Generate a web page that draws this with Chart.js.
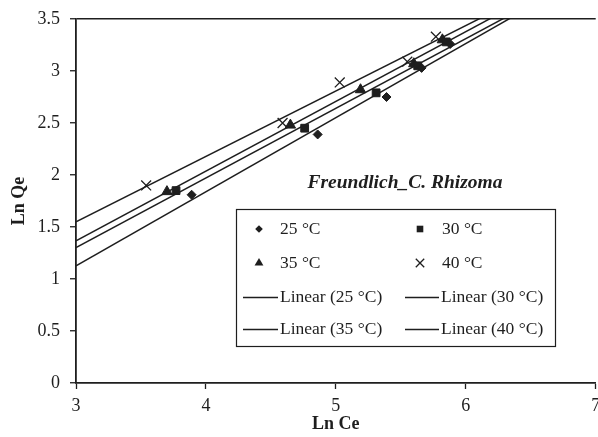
<!DOCTYPE html>
<html>
<head>
<meta charset="utf-8">
<script src="https://cdn.jsdelivr.net/npm/chart.js@4/dist/chart.umd.min.js"></script>
<style>
  html, body { margin: 0; padding: 0; background: #fff; overflow: hidden; }
  #wrap { width: 598px; height: 437px; overflow: hidden; }
  #c { display: block; }
</style>
</head>
<body>
<div id="wrap"><canvas id="c" width="604" height="437"></canvas></div>
<script>
// ---- data ----
const seriesNames = ['25 °C', '30 °C', '35 °C', '40 °C'];
const lnCe25 = [3.89, 4.86, 5.39, 5.66, 5.88];
const lnQe25 = [1.81, 2.39, 2.75, 3.03, 3.26];
const lnCe30 = [3.77, 4.76, 5.31, 5.63, 5.85];
const lnQe30 = [1.85, 2.45, 2.79, 3.05, 3.28];
const lnCe35 = [3.70, 4.65, 5.19, 5.60, 5.82];
const lnQe35 = [1.84, 2.48, 2.82, 3.07, 3.30];
const lnCe40 = [3.54, 4.59, 5.03, 5.55, 5.77];
const lnQe40 = [1.90, 2.50, 2.89, 3.09, 3.33];
const xTicks = [3, 4, 5, 6, 7];
const yTicks = [0, 0.5, 1, 1.5, 2, 2.5, 3, 3.5];
const yTickLabels = ['0', '0.5', '1', '1.5', '2', '2.5', '3', '3.5'];
const chartTitle = 'Freundlich_C. Rhizoma';
const xTitle = 'Ln Ce';
const yTitle = 'Ln Qe';

const xs = [lnCe25, lnCe30, lnCe35, lnCe40];
const ys = [lnQe25, lnQe30, lnQe35, lnQe40];
const styles = ['rectRot', 'rect', 'triangle', 'crossRot'];
const radii = [4.5, 5.5, 6, 7];
const INK = '#1e1e1e';
const SERIF = '"Liberation Serif", "Times New Roman", serif';

function pts(x, y) { return x.map((v, i) => ({x: v, y: y[i]})); }
function fit(x, y) {
  const n = x.length;
  const mx = x.reduce((a, b) => a + b, 0) / n;
  const my = y.reduce((a, b) => a + b, 0) / n;
  let sxy = 0, sxx = 0;
  for (let i = 0; i < n; i++) { sxy += (x[i] - mx) * (y[i] - my); sxx += (x[i] - mx) ** 2; }
  const m = sxy / sxx;
  return {m, b: my - m * mx};
}

const datasets = [];
for (let k = 0; k < 4; k++) {
  datasets.push({
    type: 'scatter', label: seriesNames[k], data: pts(xs[k], ys[k]),
    pointStyle: styles[k], pointRadius: radii[k], pointHoverRadius: radii[k],
    backgroundColor: INK, borderColor: INK, pointBorderWidth: k === 3 ? 1.3 : 1,
    showLine: false, order: 1
  });
}
for (let k = 0; k < 4; k++) {
  const f = fit(xs[k], ys[k]);
  const x0 = xTicks[0], x1 = xTicks[xTicks.length - 1];
  datasets.push({
    type: 'line', label: 'Linear (' + seriesNames[k] + ')',
    data: [{x: x0, y: f.m * x0 + f.b}, {x: x1, y: f.m * x1 + f.b}],
    borderColor: INK, borderWidth: 1.5, pointRadius: 0, fill: false, order: 2
  });
}

function drawMarker(ctx, style, x, y, r) {
  ctx.save();
  ctx.fillStyle = INK; ctx.strokeStyle = INK; ctx.lineWidth = 1.3;
  ctx.beginPath();
  if (style === 'rectRot') {
    ctx.moveTo(x, y - r); ctx.lineTo(x + r, y); ctx.lineTo(x, y + r); ctx.lineTo(x - r, y); ctx.closePath(); ctx.fill();
  } else if (style === 'rect') {
    const s = r * Math.SQRT1_2; ctx.rect(x - s, y - s, 2 * s, 2 * s); ctx.fill();
  } else if (style === 'triangle') {
    const w = r * 0.866;
    ctx.moveTo(x, y - r); ctx.lineTo(x + w, y + r / 2); ctx.lineTo(x - w, y + r / 2); ctx.closePath(); ctx.fill();
  } else {
    const s = r * Math.SQRT1_2;
    ctx.moveTo(x - s, y - s); ctx.lineTo(x + s, y + s); ctx.moveTo(x + s, y - s); ctx.lineTo(x - s, y + s); ctx.stroke();
  }
  ctx.restore();
}

const legendPlugin = {
  id: 'boxLegend',
  afterDraw(chart) {
    const ctx = chart.ctx;
    ctx.save();
    // title
    ctx.fillStyle = INK;
    ctx.font = 'italic bold 19.5px ' + SERIF;
    ctx.textAlign = 'center'; ctx.textBaseline = 'middle';
    ctx.fillText(chartTitle, 405, 183);
    // legend box
    ctx.fillStyle = '#fff';
    ctx.fillRect(236.5, 209.5, 319, 137);
    ctx.strokeStyle = INK; ctx.lineWidth = 1.2;
    ctx.strokeRect(236.5, 209.5, 319, 137);
    ctx.font = '17.5px ' + SERIF;
    ctx.textAlign = 'left';
    ctx.fillStyle = INK;
    const rowsY = [229, 263, 297, 329];
    const colMarkerX = [259, 420];
    const colTextX = [280, 442];
    const colLine = [[243, 278], [405, 439]];
    chart.data.datasets.forEach((ds, i) => {
      const row = Math.floor(i / 2), col = i % 2;
      const y = rowsY[row];
      if (ds.type === 'scatter') {
        drawMarker(ctx, ds.pointStyle, colMarkerX[col], y, ds.pointRadius * 0.85);
        ctx.fillStyle = INK;
        ctx.fillText(ds.label, colTextX[col], y);
      } else {
        ctx.strokeStyle = INK; ctx.lineWidth = 1.3;
        ctx.beginPath(); ctx.moveTo(colLine[col][0], y + 0.5); ctx.lineTo(colLine[col][1], y + 0.5); ctx.stroke();
        ctx.fillStyle = INK;
        ctx.fillText(ds.label, colLine[col][1] + 2, y);
      }
    });
    ctx.restore();
  }
};

new Chart(document.getElementById('c'), {
  data: { datasets },
  options: {
    responsive: false, animation: false, devicePixelRatio: 1,
    layout: { padding: { top: 19, right: 0, left: 0, bottom: 0 } },
    plugins: { legend: { display: false }, tooltip: { enabled: false }, title: { display: false } },
    scales: {
      x: {
        type: 'linear', min: xTicks[0], max: xTicks[xTicks.length - 1],
        afterBuildTicks: s => { s.ticks = xTicks.map(v => ({value: v})); },
        afterFit: s => { s.height = 54; s.paddingLeft = 0; s.paddingRight = 0; },
        border: { color: INK, width: 1.8 },
        grid: { color: 'rgba(0,0,0,0)', drawOnChartArea: false, tickColor: INK, tickLength: 6, tickWidth: 1.3 },
        ticks: { color: INK, font: { family: SERIF, size: 18 }, padding: 6, maxRotation: 0, autoSkip: false },
        title: { display: true, text: xTitle, color: INK, font: { family: SERIF, size: 18, weight: 'bold' }, padding: { top: 0, bottom: 2 } }
      },
      y: {
        type: 'linear', min: yTicks[0], max: yTicks[yTicks.length - 1],
        afterBuildTicks: s => { s.ticks = yTicks.map(v => ({value: v})); },
        afterFit: s => { s.width = 76; s.paddingTop = 0; s.paddingBottom = 0; },
        border: { color: INK, width: 1.8 },
        grid: {
          color: c => (c.tick && c.tick.value === yTicks[yTicks.length - 1]) ? INK : 'rgba(0,0,0,0)',
          lineWidth: 1.5, tickColor: INK, tickLength: 6, tickWidth: 1.3
        },
        ticks: {
          color: INK, font: { family: SERIF, size: 18 }, padding: 10, autoSkip: false,
          callback: (v) => { const i = yTicks.indexOf(v); return i >= 0 ? yTickLabels[i] : ''; }
        },
        title: { display: true, text: yTitle, color: INK, font: { family: SERIF, size: 18, weight: 'bold' }, padding: { top: 9, bottom: 0 } }
      }
    }
  },
  plugins: [legendPlugin]
});
</script>
</body>
</html>
